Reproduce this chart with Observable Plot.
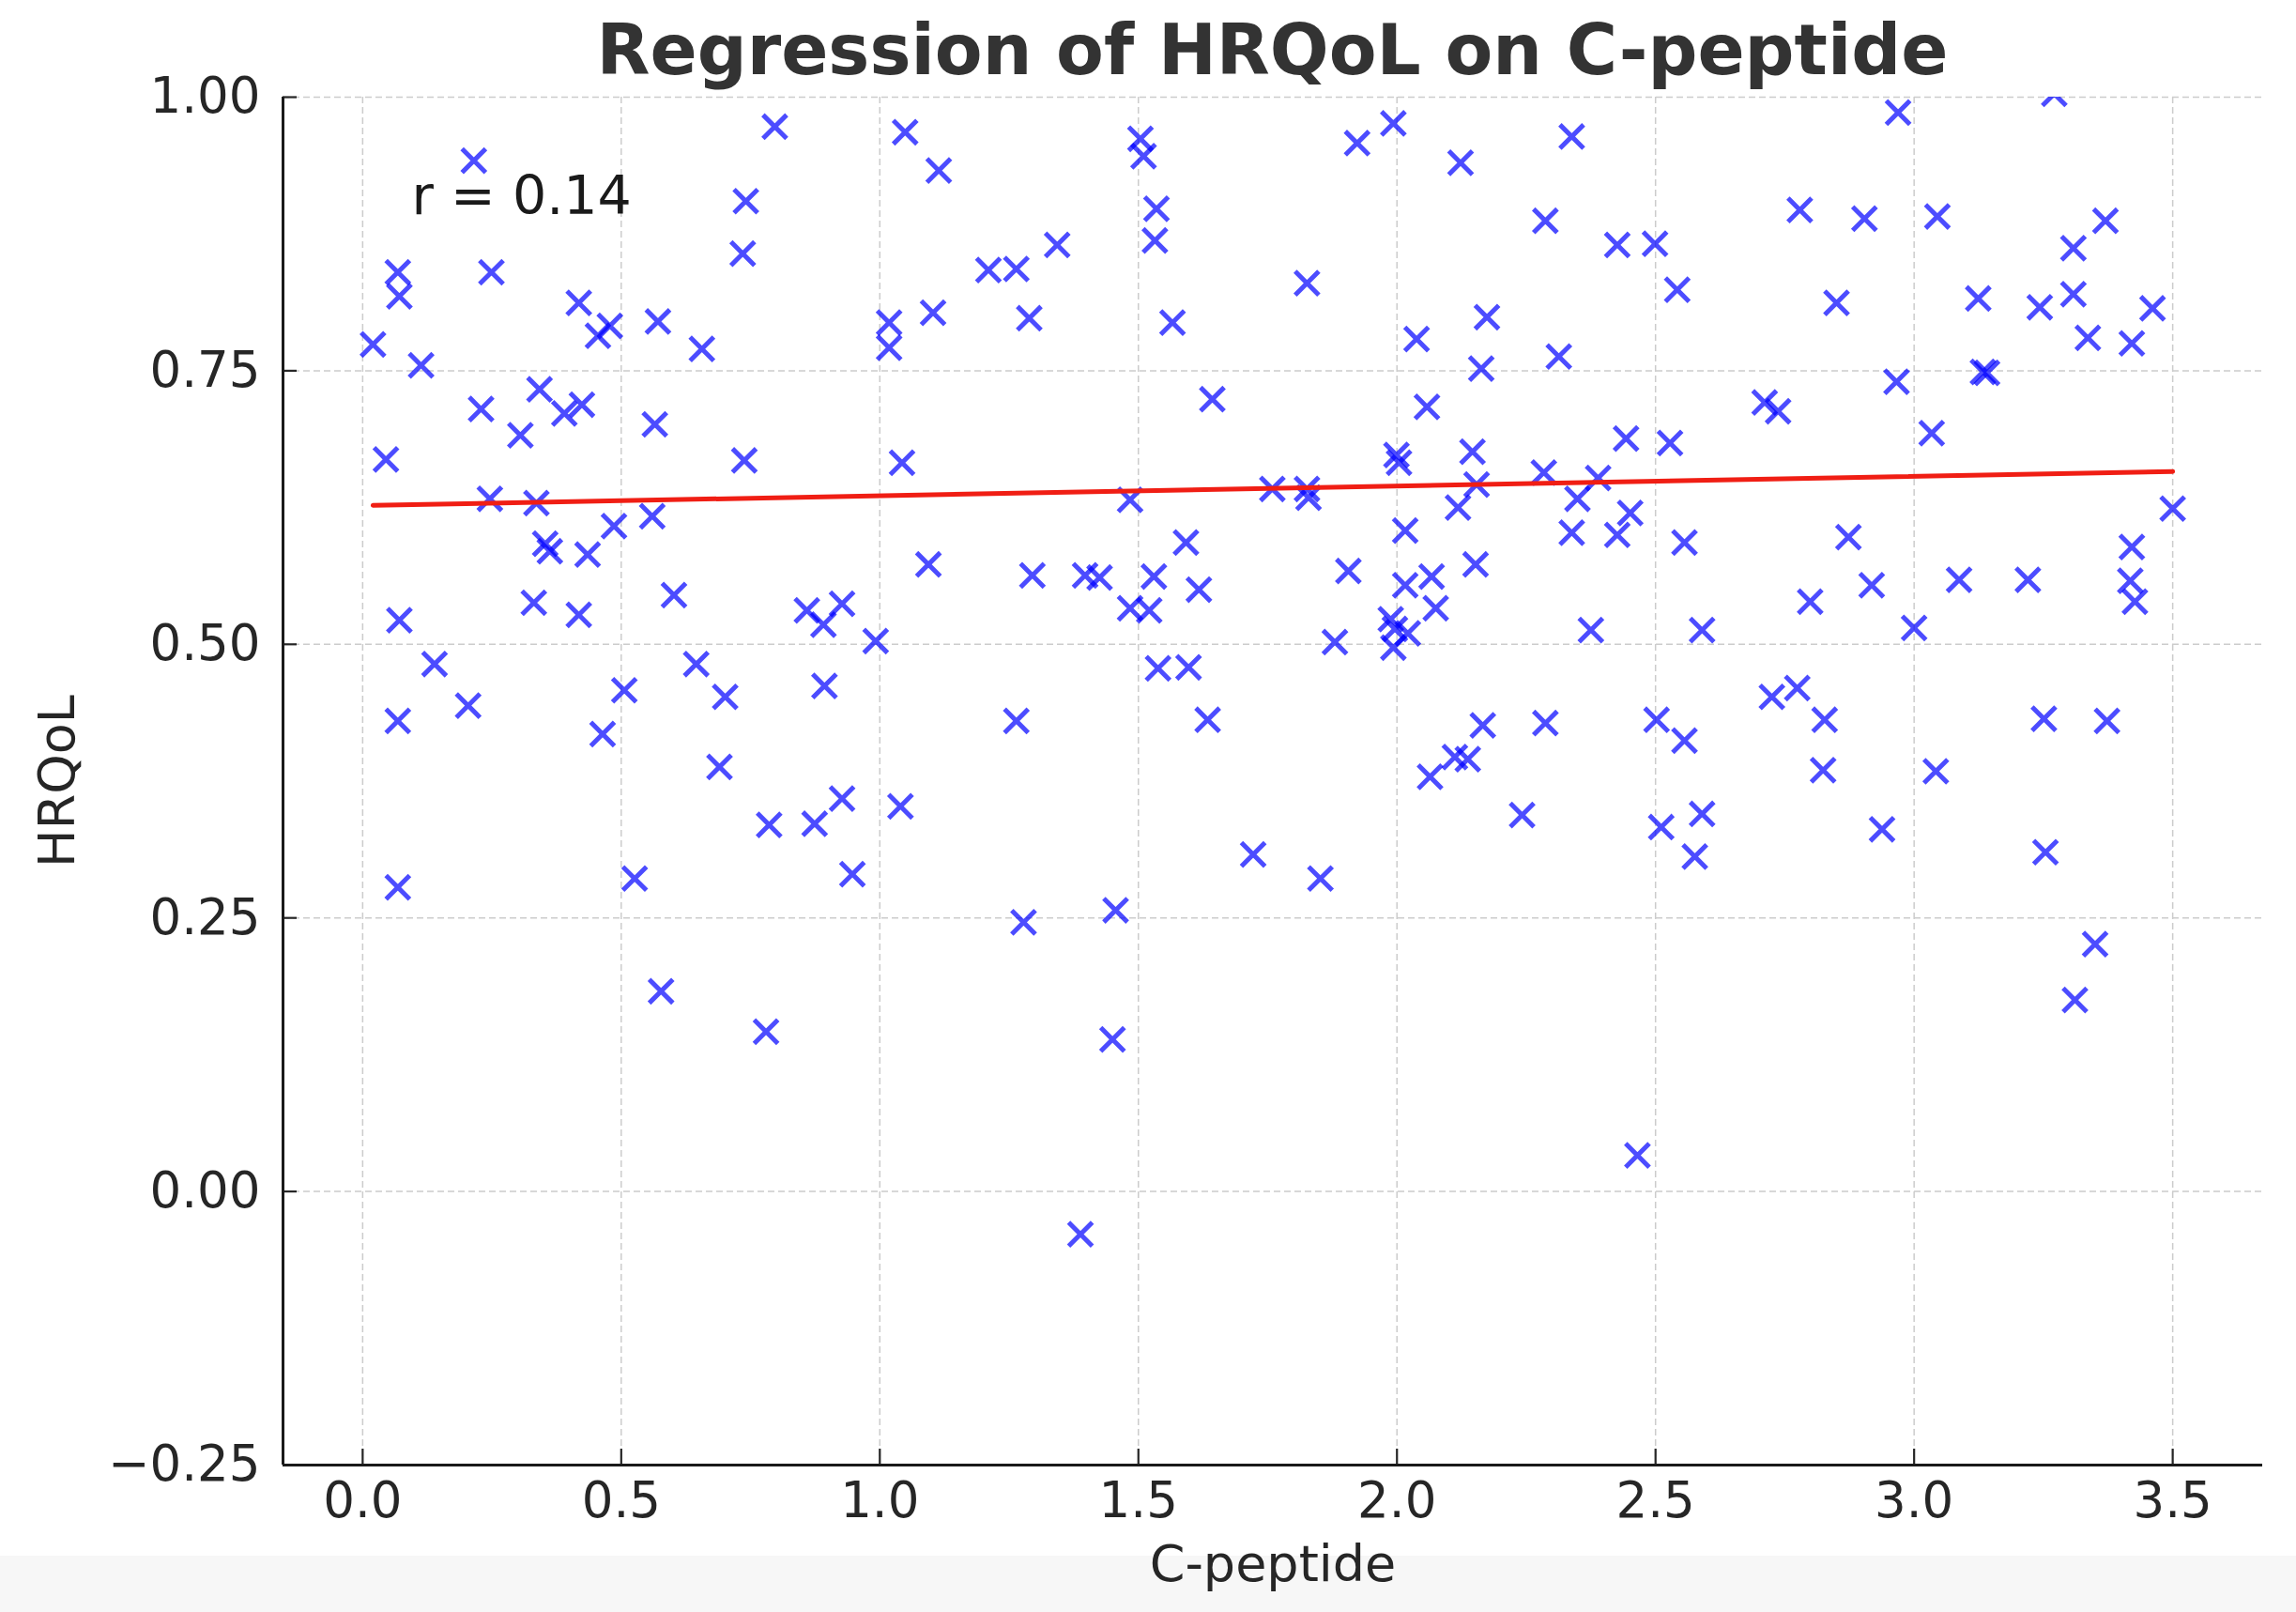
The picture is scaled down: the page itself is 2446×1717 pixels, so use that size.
<!DOCTYPE html>
<html>
<head>
<meta charset="utf-8">
<script src="https://cdn.jsdelivr.net/npm/d3@7"></script>
<script src="https://cdn.jsdelivr.net/npm/@observablehq/plot@0.6"></script>
<style>
html, body { margin: 0; padding: 0; }
body {
  width: 2446px; height: 1717px; overflow: hidden;
  background: linear-gradient(to bottom, #ffffff 0px, #ffffff 1657px, #f7f7f7 1657px, #f7f7f7 100%);
  font-family: "DejaVu Sans", sans-serif;
}
#title {
  box-sizing: border-box; height: 90px; padding-top: 16px;
  margin-left: 301px; width: 2109px; text-align: center;
  font: bold 74px/74px "DejaVu Sans", sans-serif; color: #333333; white-space: nowrap;
}
</style>
</head>
<body>
<div id="title">Regression of HRQoL on C-peptide</div>
<div id="chart"></div>
<script>
// C-peptide (x) values
const cPeptide = [
  0.020, 0.045, 0.068, 0.071, 0.071, 0.068, 0.068, 0.113, 0.139, 0.204,
  0.215, 0.229, 0.249, 0.246, 0.305, 0.331, 0.336, 0.342, 0.353, 0.362,
  0.390, 0.418, 0.424, 0.418, 0.435, 0.455, 0.478, 0.464, 0.486, 0.506,
  0.526, 0.571, 0.565, 0.560, 0.577, 0.602, 0.645, 0.656, 0.690, 0.701,
  0.741, 0.735, 0.738, 0.786, 0.780, 0.797, 0.859, 0.874, 0.891, 0.893,
  0.927, 0.927, 0.947, 0.992, 1.018, 1.018, 1.040, 1.049, 1.043, 1.094,
  1.103, 1.114, 1.210, 1.264, 1.264, 1.278, 1.289, 1.295, 1.343, 1.397,
  1.388, 1.425, 1.456, 1.450, 1.484, 1.484, 1.504, 1.510, 1.521, 1.535,
  1.532, 1.530, 1.538, 1.566, 1.592, 1.597, 1.617, 1.634, 1.643, 1.722,
  1.759, 1.826, 1.826, 1.829, 1.852, 1.880, 1.906, 1.923, 1.988, 1.993,
  1.999, 1.993, 2.004, 2.016, 2.021, 2.016, 2.038, 2.058, 2.064, 2.067,
  2.075, 2.112, 2.118, 2.123, 2.137, 2.146, 2.152, 2.163, 2.154, 2.166,
  2.174, 2.242, 2.287, 2.284, 2.287, 2.313, 2.338, 2.338, 2.349, 2.375,
  2.389, 2.426, 2.426, 2.443, 2.451, 2.465, 2.499, 2.502, 2.511, 2.528,
  2.542, 2.556, 2.556, 2.576, 2.590, 2.590, 2.711, 2.737, 2.725, 2.774,
  2.779, 2.799, 2.827, 2.824, 2.850, 2.873, 2.904, 2.918, 2.938, 2.966,
  2.969, 3.000, 3.034, 3.045, 3.042, 3.087, 3.124, 3.133, 3.141, 3.220,
  3.243, 3.254, 3.251, 3.271, 3.308, 3.308, 3.311, 3.336, 3.350, 3.370,
  3.373, 3.421, 3.421, 3.418, 3.427, 3.461, 3.500, 1.996
];
// HRQoL (y) values
const hrqol = [
  0.774, 0.669, 0.840, 0.818, 0.522, 0.430, 0.278, 0.755, 0.482, 0.444,
  0.942, 0.715, 0.840, 0.633, 0.691, 0.538, 0.629, 0.733, 0.592, 0.585,
  0.711, 0.812, 0.719, 0.527, 0.582, 0.782, 0.791, 0.418, 0.608, 0.458,
  0.286, 0.795, 0.701, 0.617, 0.183, 0.545, 0.482, 0.770, 0.388, 0.452,
  0.905, 0.857, 0.668, 0.335, 0.146, 0.973, 0.531, 0.336, 0.518, 0.462,
  0.537, 0.359, 0.290, 0.503, 0.794, 0.771, 0.352, 0.968, 0.666, 0.573,
  0.803, 0.933, 0.842, 0.843, 0.430, 0.246, 0.798, 0.563, 0.865, 0.563,
  -0.039, 0.561, 0.257, 0.139, 0.632, 0.533, 0.962, 0.946, 0.531, 0.898,
  0.869, 0.562, 0.478, 0.794, 0.593, 0.479, 0.550, 0.431, 0.724, 0.308,
  0.642, 0.642, 0.830, 0.634, 0.286, 0.502, 0.567, 0.958, 0.523, 0.976,
  0.673, 0.497, 0.666, 0.554, 0.510, 0.604, 0.779, 0.717, 0.379, 0.562,
  0.533, 0.397, 0.625, 0.940, 0.395, 0.676, 0.573, 0.752, 0.646, 0.426,
  0.799, 0.344, 0.887, 0.657, 0.428, 0.763, 0.964, 0.602, 0.633, 0.513,
  0.652, 0.865, 0.600, 0.688, 0.620, 0.033, 0.866, 0.431, 0.333, 0.684,
  0.824, 0.412, 0.593, 0.306, 0.345, 0.513, 0.721, 0.713, 0.452, 0.460,
  0.897, 0.539, 0.431, 0.385, 0.812, 0.598, 0.889, 0.554, 0.331, 0.740,
  0.986, 0.515, 0.693, 0.891, 0.384, 0.559, 0.816, 0.749, 0.748, 0.559,
  0.808, 0.310, 0.432, 1.003, 0.862, 0.820, 0.175, 0.780, 0.226, 0.887,
  0.430, 0.775, 0.589, 0.558, 0.539, 0.807, 0.624, 0.514
];
// Fitted regression line (endpoints)
const fitX = [0.02, 3.50];
const fitY = [0.627, 0.658];
// Axis ticks and domains
const xTicks = [0, 0.5, 1.0, 1.5, 2.0, 2.5, 3.0, 3.5];
const yTicks = [-0.25, 0, 0.25, 0.5, 0.75, 1.0];
const xDomain = [-0.154, 3.674];
const yDomain = [-0.25, 1.0];
// Texts
const corrLabel = ["r = 0.14"];
const xLabel = ["C-peptide"];
const yLabel = ["HRQoL"];

const points = cPeptide.map((x, i) => ({x, y: hrqol[i]}));
const fit = fitX.map((x, i) => ({x, y: fitY[i]}));

const gridStyle = {stroke: "#cccccc", strokeOpacity: 1, strokeWidth: 1.5, strokeDasharray: "7,4"};
const spineStyle = {stroke: "#1a1a1a", strokeWidth: 3};

const chart = Plot.plot({
  width: 2446,
  height: 1627,
  marginTop: 13,
  marginBottom: 157,
  marginLeft: 301,
  marginRight: 36,
  style: {
    fontFamily: '"DejaVu Sans", sans-serif',
    fontSize: "53px",
    color: "#262626",
    background: "transparent",
    overflow: "visible"
  },
  x: {domain: xDomain},
  y: {domain: yDomain},
  marks: [
    Plot.gridX(xTicks, gridStyle),
    Plot.gridY(yTicks, gridStyle),
    Plot.axisX({ticks: xTicks, tickSize: -17, tickPadding: 35, tickFormat: d3.format(".1f"), strokeWidth: 2.2, label: null, fontSize: 53}),
    Plot.axisY({ticks: yTicks, tickSize: -15, tickPadding: 39, tickFormat: d3.format(".2f"), strokeWidth: 2.2, label: null, fontSize: 53}),
    Plot.dot(points, {x: "x", y: "y", symbol: "times", r: 11.5, stroke: "blue", strokeOpacity: 0.7, strokeWidth: 5, clip: true}),
    Plot.line(fit, {x: "x", y: "y", stroke: "#f01e14", strokeWidth: 5}),
    Plot.ruleX([xDomain[0]], spineStyle),
    Plot.ruleY([yDomain[0]], spineStyle),
    Plot.text(corrLabel, {frameAnchor: "top-left", dx: 137, dy: 124, textAnchor: "start", lineAnchor: "bottom", fontSize: 57, fill: "#1a1a1a"}),
    Plot.text(xLabel, {frameAnchor: "bottom", dy: 123, lineAnchor: "bottom", fontSize: 54, fill: "#262626"}),
    Plot.text(yLabel, {frameAnchor: "left", dx: -239.5, rotate: -90, textAnchor: "middle", lineAnchor: "middle", fontSize: 54, fill: "#262626"})
  ]
});
document.getElementById("chart").appendChild(chart);
</script>
</body>
</html>
